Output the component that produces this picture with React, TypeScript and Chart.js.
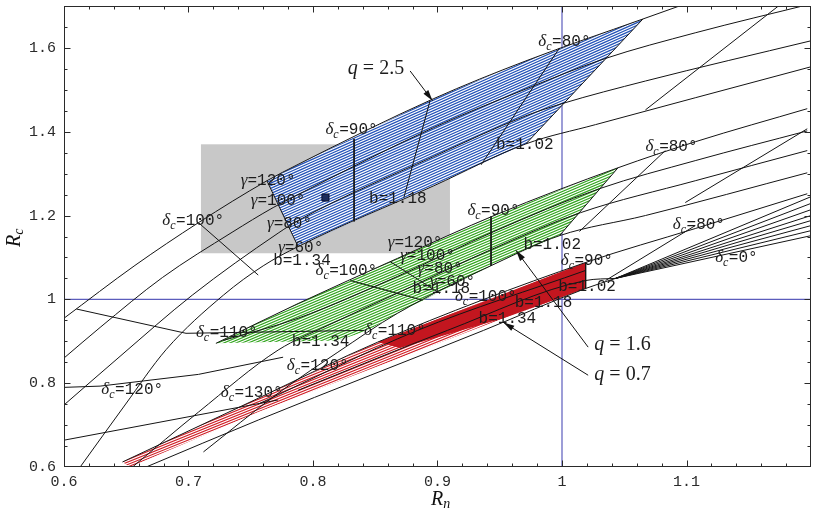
import React, { useEffect, useRef } from "react";
import { Chart, registerables } from "chart.js";

Chart.register(...registerables);

type Pt = { x: number; y: number };
const P = (x: number, y: number): Pt => ({ x, y });

// ---------- axes ----------
const X_MIN = 0.6, X_MAX = 1.2, Y_MIN = 0.6, Y_MAX = 1.7;
const X_MINOR = 0.02, Y_MINOR = 0.05;
const xTickValues = [0.6, 0.7, 0.8, 0.9, 1.0, 1.1];
const xTickLabels = ["0.6", "0.7", "0.8", "0.9", "1", "1.1"];
const yTickValues = [0.6, 0.8, 1.0, 1.2, 1.4, 1.6];
const yTickLabels = ["0.6", "0.8", "1", "1.2", "1.4", "1.6"];

// ---------- q = 2.5 family ----------
const A_g120 = [P(0.600, 0.955), P(0.657, 1.081), P(0.708, 1.183), P(0.763, 1.283), P(0.788, 1.322), P(0.897, 1.479), P(0.971, 1.569), P(1.065, 1.669), P(1.099, 1.705)];
const A_g100 = [P(0.600, 0.860), P(0.629, 0.933), P(0.679, 1.052), P(0.735, 1.160), P(0.768, 1.219), P(0.788, 1.250), P(0.897, 1.410), P(0.971, 1.502), P(1.034, 1.574), P(1.107, 1.636), P(1.200, 1.705)];
const A_g80 = [P(0.600, 0.748), P(0.645, 0.864), P(0.703, 1.010), P(0.772, 1.158), P(0.788, 1.188), P(0.897, 1.341), P(0.971, 1.438), P(1.000, 1.467), P(1.067, 1.521), P(1.200, 1.617)];
const A_g60 = [P(0.613, 0.600), P(0.649, 0.748), P(0.682, 0.880), P(0.728, 1.010), P(0.760, 1.080), P(0.788, 1.126), P(0.897, 1.271), P(0.971, 1.371), P(1.027, 1.417), P(1.107, 1.481), P(1.200, 1.555)];
const A_left = [P(0.763, 1.283), P(0.788, 1.126)];
const A_dc100 = [P(0.708, 1.183), P(0.756, 1.058)];
const A_dc110 = [P(0.610, 0.977), P(0.698, 0.919), P(0.738, 0.921), P(0.841, 0.926)];
const A_dc90 = [P(0.833, 1.383), P(0.833, 1.186)];
const A_b118 = [P(0.894, 1.474), P(0.873, 1.243)];
const A_b102 = [P(0.998, 1.600), P(0.935, 1.321)];
const A_right = [P(1.065, 1.669), P(0.971, 1.371)];
const A_steep = [P(1.176, 1.705), P(1.067, 1.452)];

// ---------- q = 1.6 family ----------
const B_g120 = [P(0.722, 0.895), P(0.788, 0.990), P(0.868, 1.098), P(0.947, 1.202), P(1.045, 1.314), P(1.107, 1.376), P(1.197, 1.455)];
const B_g100 = [P(0.728, 0.902), P(0.788, 0.955), P(0.868, 1.055), P(0.947, 1.164), P(1.030, 1.264), P(1.107, 1.331), P(1.197, 1.402)];
const B_g80 = [P(0.655, 0.600), P(0.708, 0.731), P(0.772, 0.879), P(0.812, 0.938), P(0.868, 1.015), P(0.947, 1.124), P(1.015, 1.207), P(1.107, 1.283), P(1.197, 1.355)];
const B_g60 = [P(0.712, 0.636), P(0.772, 0.776), P(0.820, 0.874), P(0.868, 0.967), P(0.947, 1.086), P(0.998, 1.152), P(1.067, 1.200), P(1.197, 1.302)];
const B_dc100 = [P(0.830, 1.045), P(0.888, 0.998)];
const B_gline = [P(0.862, 1.090), P(0.902, 1.014)];
const B_dc90 = [P(0.943, 1.198), P(0.943, 1.080)];
const B_right = [P(1.045, 1.314), P(0.998, 1.152)];
const B_dc80 = [P(1.014, 1.162), P(1.083, 1.355)];
const B_steep = [P(1.099, 1.231), P(1.197, 1.407)];

// ---------- q = 0.7 family ----------
const C_top = [P(0.647, 0.612), P(0.756, 0.764), P(0.852, 0.898), P(1.019, 1.088), P(1.107, 1.169), P(1.197, 1.252)];
const C_bottom = [P(0.666, 0.600), P(0.756, 0.712), P(0.937, 0.926), P(1.019, 1.026), P(1.043, 1.050)];
const C_in1 = [P(0.756, 0.750), P(0.884, 0.926), P(1.019, 1.069)];
const C_in2 = [P(0.788, 0.783), P(0.908, 0.926), P(1.019, 1.045), P(1.043, 1.050)];
const C_right = [P(1.019, 1.088), P(1.019, 1.026)];
const C_dc120 = [P(0.600, 0.790), P(0.629, 0.793), P(0.708, 0.821), P(0.776, 0.862)];
const C_dc130 = [P(0.600, 0.664), P(0.772, 0.760)];
const C_dc80 = [P(1.035, 1.045), P(1.107, 1.176)];
const fanOrigin = P(1.043, 1.050);
const fanEndX = 1.2;
const fanEndY = [1.245, 1.229, 1.214, 1.200, 1.188, 1.176, 1.164, 1.152];

// ---------- regions ----------
const blueRegion = [P(0.763, 1.283), P(0.788, 1.322), P(0.897, 1.479), P(0.971, 1.569), P(1.065, 1.669), P(0.971, 1.371), P(0.897, 1.271), P(0.788, 1.126)];
const greenRegion = [P(0.722, 0.895), P(0.788, 0.990), P(0.868, 1.098), P(0.947, 1.202), P(1.045, 1.314), P(0.998, 1.152), P(0.947, 1.086), P(0.868, 0.967), P(0.844, 0.926), P(0.820, 0.902)];
const redRegion = [P(0.647, 0.612), P(0.756, 0.764), P(0.852, 0.898), P(1.019, 1.088), P(1.019, 1.026), P(0.953, 0.955), P(0.756, 0.731), P(0.653, 0.600)];
const redSolid = [P(0.852, 0.898), P(1.019, 1.088), P(1.019, 1.026), P(0.953, 0.955), P(0.870, 0.884)];
const greyBoxX = [0.71, 0.91];
const greyBoxY = [1.11, 1.37];
const refX = 1.0;
const refY = 1.0;
const marker = [P(0.810, 1.243)];

// ---------- annotations ----------
const deltaLabels = [
  { t: "=100°", x: 0.679, y: 1.190 }, { t: "=110°", x: 0.706, y: 0.921 }, { t: "=90°", x: 0.810, y: 1.407 },
  { t: "=80°", x: 0.981, y: 1.617 }, { t: "=90°", x: 0.924, y: 1.214 }, { t: "=100°", x: 0.802, y: 1.069 },
  { t: "=110°", x: 0.841, y: 0.926 }, { t: "=90°", x: 0.999, y: 1.095 }, { t: "=100°", x: 0.914, y: 1.007 },
  { t: "=120°", x: 0.779, y: 0.843 }, { t: "=130°", x: 0.726, y: 0.779 }, { t: "=120°", x: 0.630, y: 0.786 },
  { t: "=80°", x: 1.067, y: 1.367 }, { t: "=80°", x: 1.089, y: 1.179 }, { t: "=0°", x: 1.123, y: 1.102 },
];
const gammaLabels = [
  { t: "=120°", x: 0.742, y: 1.286 }, { t: "=100°", x: 0.750, y: 1.238 }, { t: "=80°", x: 0.763, y: 1.183 }, { t: "=60°", x: 0.772, y: 1.124 },
  { t: "=120°", x: 0.860, y: 1.136 }, { t: "=100°", x: 0.870, y: 1.107 }, { t: "=80°", x: 0.884, y: 1.074 }, { t: "=60°", x: 0.894, y: 1.045 },
];
const bLabels = [
  { t: "b=1.18", x: 0.845, y: 1.243 }, { t: "b=1.02", x: 0.947, y: 1.371 }, { t: "b=1.34", x: 0.768, y: 1.093 },
  { t: "b=1.18", x: 0.880, y: 1.026 }, { t: "b=1.02", x: 0.969, y: 1.133 }, { t: "b=1.34", x: 0.783, y: 0.900 },
  { t: "b=1.02", x: 0.997, y: 1.033 }, { t: "b=1.18", x: 0.962, y: 0.993 }, { t: "b=1.34", x: 0.933, y: 0.955 },
];
const qLabels = [
  { t: "2.5", x: 0.828, y: 1.552 }, { t: "1.6", x: 1.026, y: 0.893 }, { t: "0.7", x: 1.026, y: 0.822 },
];
const arrows = [
  { x0: 0.878, y0: 1.545, x1: 0.896, y1: 1.474 },
  { x0: 1.021, y0: 0.886, x1: 0.963, y1: 1.117 },
  { x0: 1.021, y0: 0.819, x1: 0.953, y1: 0.945 },
];

const curves: Pt[][] = [A_g120, A_g100, A_g80, A_g60, B_g120, B_g100, B_g80, B_g60, C_top, C_bottom, C_in1, C_in2];
const straightLines: Pt[][] = [
  A_left, A_dc100, A_dc110, A_dc90, A_b118, A_b102, A_right, A_steep,
  B_dc100, B_gline, B_dc90, B_right, B_dc80, B_steep,
  C_right, C_dc120, C_dc130, C_dc80,
  ...fanEndY.map((v) => [fanOrigin, P(fanEndX, v)]),
];

const datasets: any[] = [];
datasets.push({ data: marker, showLine: false, pointStyle: "rect", pointRadius: 5, backgroundColor: "#1d2c5c", borderColor: "#0b1030", borderWidth: 1, order: 1 });
curves.forEach((d) => {
  datasets.push({ data: d, showLine: true, borderColor: "#141414", borderWidth: 1, pointRadius: 0, fill: false, cubicInterpolationMode: "monotone", order: 10 });
});
straightLines.forEach((d) => {
  datasets.push({ data: d, showLine: true, borderColor: "#141414", borderWidth: 1, pointRadius: 0, fill: false, tension: 0, order: 10 });
});
datasets.push({ data: redSolid, showLine: false, pointRadius: 0, hatch: { base: "#c3161f", gap: 0 }, order: 40 });
datasets.push({ data: redRegion, showLine: false, pointRadius: 0, hatch: { base: "#ffffff", color: "#d01f27", gap: 2.3, width: 1.15, angle: -22 }, order: 50 });
datasets.push({ data: greenRegion, showLine: false, pointRadius: 0, hatch: { base: "#ffffff", color: "#33a61f", gap: 2.4, width: 1.2, angle: -23 }, order: 50 });
datasets.push({ data: blueRegion, showLine: false, pointRadius: 0, hatch: { base: "#ffffff", color: "#2453b8", gap: 2.4, width: 1.2, angle: -24 }, order: 50 });
datasets.push({ data: [P(refX, Y_MIN), P(refX, Y_MAX)], showLine: true, borderColor: "#5b5cbc", borderWidth: 1.2, pointRadius: 0, order: 100 });
datasets.push({ data: [P(X_MIN, refY), P(X_MAX, refY)], showLine: true, borderColor: "#5b5cbc", borderWidth: 1.2, pointRadius: 0, order: 100 });

const SERIF = "'Liberation Serif', 'DejaVu Serif', serif";
const MONO = "'Liberation Mono', 'DejaVu Sans Mono', monospace";

const decorPlugin = {
  id: "decor",
  beforeDatasetsDraw(chart: any) {
    const { ctx, scales } = chart;
    const xs = scales.x, ys = scales.y;
    const l = xs.getPixelForValue(greyBoxX[0]), r = xs.getPixelForValue(greyBoxX[1]);
    const t = ys.getPixelForValue(greyBoxY[1]), b = ys.getPixelForValue(greyBoxY[0]);
    ctx.save();
    ctx.fillStyle = "#c8c8c8";
    ctx.fillRect(l, t, r - l, b - t);
    ctx.restore();
  },
  beforeDatasetDraw(chart: any, args: any) {
    const ds = chart.data.datasets[args.index];
    const h = ds.hatch;
    if (!h) return;
    const pts = args.meta.data;
    const ctx = chart.ctx, ca = chart.chartArea;
    ctx.save();
    ctx.beginPath();
    ctx.rect(ca.left, ca.top, ca.right - ca.left, ca.bottom - ca.top);
    ctx.clip();
    ctx.beginPath();
    let minX = Infinity, maxX = -Infinity, minY = Infinity, maxY = -Infinity;
    pts.forEach((p: any, i: number) => {
      if (i) ctx.lineTo(p.x, p.y); else ctx.moveTo(p.x, p.y);
      minX = Math.min(minX, p.x); maxX = Math.max(maxX, p.x);
      minY = Math.min(minY, p.y); maxY = Math.max(maxY, p.y);
    });
    ctx.closePath();
    ctx.fillStyle = h.base;
    ctx.fill();
    if (h.gap > 0) {
      ctx.clip();
      const cx = (minX + maxX) / 2, cy = (minY + maxY) / 2;
      const R = Math.hypot(maxX - minX, maxY - minY) / 2 + 6;
      ctx.translate(cx, cy);
      ctx.rotate((h.angle * Math.PI) / 180);
      ctx.strokeStyle = h.color;
      ctx.lineWidth = h.width;
      ctx.beginPath();
      for (let k = -R; k <= R; k += h.gap) {
        ctx.moveTo(-R, k);
        ctx.lineTo(R, k);
      }
      ctx.stroke();
    }
    ctx.restore();
  },
  afterDatasetsDraw(chart: any) {
    const { ctx, scales, chartArea: ca } = chart;
    const xs = scales.x, ys = scales.y;
    const xp = (v: number) => xs.getPixelForValue(v);
    const yp = (v: number) => ys.getPixelForValue(v);
    const L = Math.round(ca.left) + 0.5, R = Math.round(ca.right) - 0.5;
    const T = Math.round(ca.top) + 0.5, B = Math.round(ca.bottom) - 0.5;
    ctx.save();
    ctx.strokeStyle = "#2a2a2a";
    ctx.lineWidth = 1;
    ctx.strokeRect(L, T, R - L, B - T);
    ctx.beginPath();
    const nx = Math.round((X_MAX - X_MIN) / X_MINOR);
    for (let i = 1; i < nx; i++) {
      const px = Math.round(xp(X_MIN + i * X_MINOR)) + 0.5;
      const len = i % 5 === 0 ? 6 : 3;
      ctx.moveTo(px, B); ctx.lineTo(px, B - len);
      ctx.moveTo(px, T); ctx.lineTo(px, T + len);
    }
    const ny = Math.round((Y_MAX - Y_MIN) / Y_MINOR);
    for (let i = 1; i < ny; i++) {
      const py = Math.round(yp(Y_MIN + i * Y_MINOR)) + 0.5;
      const len = i % 4 === 0 ? 6 : 3;
      ctx.moveTo(L, py); ctx.lineTo(L + len, py);
      ctx.moveTo(R, py); ctx.lineTo(R - len, py);
    }
    ctx.stroke();
    ctx.fillStyle = "#2a2a2a";
    ctx.font = `15px ${MONO}`;
    ctx.textBaseline = "middle";
    ctx.textAlign = "center";
    xTickValues.forEach((v, i) => ctx.fillText(xTickLabels[i], xp(v), 482));
    ctx.textAlign = "right";
    yTickValues.forEach((v, i) => ctx.fillText(yTickLabels[i], 56, yp(v)));
    ctx.textAlign = "left";
    ctx.textBaseline = "alphabetic";
    ctx.fillStyle = "#111";
    ctx.font = `italic 20px ${SERIF}`;
    ctx.fillText("R", 431, 505);
    let rw = ctx.measureText("R").width;
    ctx.font = `italic 14px ${SERIF}`;
    ctx.fillText("n", 431 + rw, 508);
    ctx.save();
    ctx.translate(20, 247);
    ctx.rotate(-Math.PI / 2);
    ctx.font = `italic 20px ${SERIF}`;
    ctx.fillText("R", 0, 0);
    rw = ctx.measureText("R").width;
    ctx.font = `italic 14px ${SERIF}`;
    ctx.fillText("c", rw, 3);
    ctx.restore();

    ctx.fillStyle = "#1c1c1c";
    deltaLabels.forEach((lb) => {
      const px = xp(lb.x), base = yp(lb.y) + 5;
      ctx.font = `italic 17px ${SERIF}`;
      ctx.fillText("δ", px, base);
      let w = ctx.measureText("δ").width;
      ctx.font = `italic 12px ${SERIF}`;
      ctx.fillText("c", px + w, base + 4);
      w += ctx.measureText("c").width + 0.5;
      ctx.font = `16px ${MONO}`;
      ctx.fillText(lb.t, px + w, base);
    });
    gammaLabels.forEach((lb) => {
      const px = xp(lb.x), base = yp(lb.y) + 5;
      ctx.font = `italic 17px ${SERIF}`;
      ctx.fillText("γ", px, base);
      const w = ctx.measureText("γ").width;
      ctx.font = `16px ${MONO}`;
      ctx.fillText(lb.t, px + w, base);
    });
    ctx.font = `16px ${MONO}`;
    bLabels.forEach((lb) => ctx.fillText(lb.t, xp(lb.x), yp(lb.y) + 5));
    qLabels.forEach((lb) => {
      const px = xp(lb.x), base = yp(lb.y) + 6;
      ctx.font = `italic 20px ${SERIF}`;
      ctx.fillText("q", px, base);
      const w = ctx.measureText("q").width;
      ctx.font = `20px ${SERIF}`;
      ctx.fillText(" = " + lb.t, px + w, base);
    });
    ctx.strokeStyle = "#111";
    ctx.fillStyle = "#111";
    ctx.lineWidth = 1;
    arrows.forEach((a) => {
      const x0 = xp(a.x0), y0 = yp(a.y0), x1 = xp(a.x1), y1 = yp(a.y1);
      ctx.beginPath();
      ctx.moveTo(x0, y0);
      ctx.lineTo(x1, y1);
      ctx.stroke();
      const ang = Math.atan2(y1 - y0, x1 - x0);
      const hl = 11, hw = 3;
      const bx = x1 - hl * Math.cos(ang), by = y1 - hl * Math.sin(ang);
      ctx.beginPath();
      ctx.moveTo(x1, y1);
      ctx.lineTo(bx + hw * Math.sin(ang), by - hw * Math.cos(ang));
      ctx.lineTo(bx - hw * Math.sin(ang), by + hw * Math.cos(ang));
      ctx.closePath();
      ctx.fill();
    });
    ctx.restore();
  },
};

export default function App() {
  const ref = useRef<HTMLCanvasElement>(null);
  useEffect(() => {
    if (!ref.current) return;
    const chart = new Chart(ref.current, {
      type: "scatter",
      data: { datasets },
      options: {
        animation: false,
        responsive: false,
        devicePixelRatio: 1,
        events: [],
        layout: { padding: { left: 64, right: 0, top: 3, bottom: 41 } },
        elements: { point: { radius: 0 } },
        scales: {
          x: { type: "linear", min: X_MIN, max: X_MAX, display: false },
          y: { type: "linear", min: Y_MIN, max: Y_MAX, display: false },
        },
        plugins: { legend: { display: false }, tooltip: { enabled: false } },
      } as any,
      plugins: [decorPlugin as any],
    });
    return () => chart.destroy();
  }, []);
  return (
    <div style={{ position: "fixed", left: 0, top: 0, width: 817, height: 508, background: "#fff" }}>
      <canvas ref={ref} width={817} height={508} style={{ width: 817, height: 508, display: "block" }} />
    </div>
  );
}
